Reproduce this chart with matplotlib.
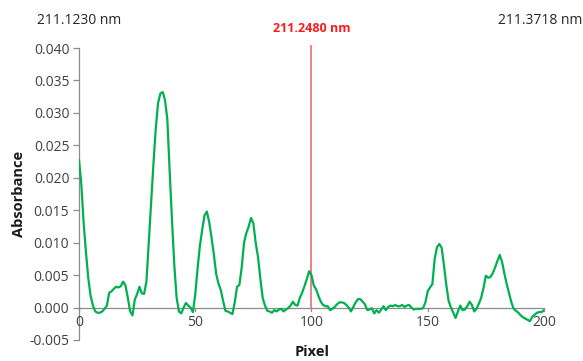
import matplotlib
matplotlib.use("Agg")
import matplotlib.pyplot as plt
import numpy as np

plt.rcParams['font.family'] = ['Open Sans', 'DejaVu Sans']

pixel = list(range(0, 201))
absorbance = [
    0.0228, 0.0190, 0.0130, 0.0085, 0.0045, 0.0018, 0.0003, -0.0006, -0.0008, -0.0008,
    -0.0006, -0.0002, 0.0003, 0.0023, 0.0025, 0.0029, 0.0032, 0.0031, 0.0033, 0.0040,
    0.0034, 0.0015, -0.0006, -0.0012, 0.0012, 0.0021, 0.0032, 0.0022, 0.0021, 0.0040,
    0.0100, 0.0160, 0.0220, 0.0275, 0.0315, 0.0330, 0.0332, 0.0320, 0.0290, 0.0210,
    0.0135, 0.0065, 0.0015, -0.0006, -0.0009, 0.0000, 0.0007, 0.0003, 0.0000, -0.0007,
    0.0020, 0.0060, 0.0095, 0.0120, 0.0142, 0.0148, 0.0132, 0.0108, 0.0082, 0.0052,
    0.0037, 0.0027, 0.0010, -0.0005, -0.0006, -0.0008, -0.0010, 0.0008, 0.0032, 0.0035,
    0.0062, 0.0100, 0.0115, 0.0125, 0.0138, 0.0130, 0.0100, 0.0078, 0.0045, 0.0015,
    0.0003, -0.0005, -0.0006, -0.0008, -0.0004, -0.0006, -0.0003, -0.0002, -0.0006, -0.0003,
    -0.0001, 0.0003, 0.0009, 0.0004, 0.0003, 0.0015, 0.0023, 0.0033, 0.0044, 0.0056,
    0.0050, 0.0034, 0.0028, 0.0018, 0.0009, 0.0004, 0.0002, 0.0002, -0.0004, -0.0002,
    0.0001, 0.0005, 0.0008, 0.0008, 0.0007, 0.0004, 0.0000, -0.0006, 0.0001, 0.0008,
    0.0013, 0.0013, 0.0009, 0.0005, -0.0004, -0.0003, -0.0001, -0.0009, -0.0004, -0.0008,
    -0.0003, 0.0002, -0.0004, 0.0001, 0.0003, 0.0002, 0.0004, 0.0002, 0.0002, 0.0004,
    0.0001, 0.0003, 0.0004, 0.0000, -0.0003, -0.0002, -0.0002, -0.0002, -0.0001, 0.0008,
    0.0025, 0.0031, 0.0036, 0.0075, 0.0093, 0.0098, 0.0092, 0.0065, 0.0035, 0.0010,
    0.0000, -0.0008, -0.0016, -0.0006, 0.0003, -0.0004, -0.0003, 0.0002, 0.0009, 0.0004,
    -0.0006, -0.0002, 0.0006, 0.0015, 0.0030, 0.0049, 0.0046, 0.0047, 0.0053, 0.0062,
    0.0072, 0.0081, 0.0070, 0.0052, 0.0036, 0.0022, 0.0008, -0.0002, -0.0005, -0.0008,
    -0.0012, -0.0015, -0.0017, -0.0019, -0.0021, -0.0014, -0.0011, -0.0008, -0.0007, -0.0007,
    -0.0004,
]
x_ticks = [0, 50, 100, 150, 200]
y_ticks = [-0.005, 0.000, 0.005, 0.010, 0.015, 0.020, 0.025, 0.030, 0.035, 0.040]
marker_pixel = 100
left_label = "211.1230 nm"
right_label = "211.3718 nm"
marker_label = "211.2480 nm"

fig = plt.figure(figsize=(5.83, 3.61), dpi=100)
ax = fig.add_axes([0.1355, 0.0582, 0.7975, 0.8088])
ax.set_xlim(0, 200)
ax.set_ylim(-0.005, 0.040)

axis_gray = '#8c8c8c'
text_gray = '#404040'

ax.plot(pixel, absorbance, color='#00b050', lw=1.6, zorder=3, solid_joinstyle='round')

# horizontal axis line at y = 0
ax.axhline(0, color=axis_gray, lw=0.9, zorder=1)
for xt in x_ticks:
    ax.plot([xt, xt], [0, -0.0006], color=axis_gray, lw=0.9, clip_on=False, zorder=1)
    ax.text(xt, -0.0011, str(xt), ha='center', va='top', fontsize=10, color=text_gray)

for s in ['top', 'right', 'bottom']:
    ax.spines[s].set_visible(False)
ax.spines['left'].set_color(axis_gray)
ax.spines['left'].set_linewidth(0.9)
ax.set_xticks([])
ax.set_yticks(y_ticks)
ax.set_yticklabels([f"{v:.3f}" for v in y_ticks])
ax.tick_params(axis='y', direction='out', length=4, width=0.9, color=axis_gray,
               labelsize=10, labelcolor=text_gray, pad=3)

# marker line
ax.plot([marker_pixel, marker_pixel], [0, 0.0403], color='#e8787c', lw=1.3, zorder=2, clip_on=False)

ax.set_ylabel("Absorbance", fontsize=10.5, fontweight='bold', color='#1a1a1a', labelpad=2)
fig.text(312 / 583, 1 - 352 / 361, "Pixel", ha='center', va='center', fontsize=10.5,
         fontweight='bold', color='#1a1a1a')

fig.text(79 / 583, 1 - 20 / 361, left_label, ha='center', va='center', fontsize=10, color='#262626')
fig.text(540 / 583, 1 - 20 / 361, right_label, ha='center', va='center', fontsize=10, color='#262626')
fig.text(312 / 583, 1 - 29 / 361, marker_label, ha='center', va='center', fontsize=9,
         fontweight='bold', color='#ff1a1a')

fig.savefig("out.png", dpi=100)
